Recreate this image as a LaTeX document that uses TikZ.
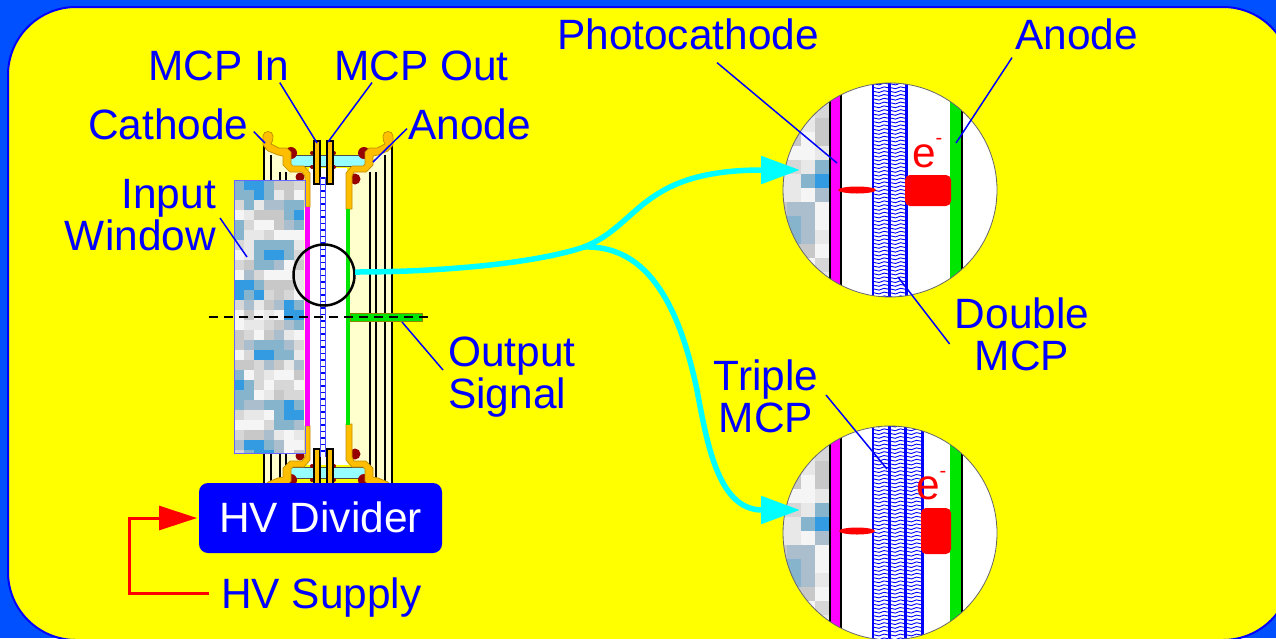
\documentclass[tikz,border=0pt]{standalone}
\usepackage{fontspec}
\setmainfont{Liberation Sans}
\usetikzlibrary{arrows.meta}
\definecolor{skyblue}{RGB}{0,80,255}
\definecolor{pureblue}{RGB}{0,0,255}
\definecolor{purered}{RGB}{255,0,0}
\definecolor{puregreen}{RGB}{0,230,0}
\definecolor{pureyellow}{RGB}{255,255,0}
\definecolor{puremagenta}{RGB}{255,0,255}
\definecolor{aquafill}{RGB}{0,255,255}
\definecolor{palecyan}{RGB}{150,255,255}
\definecolor{creamfill}{RGB}{255,255,205}
\definecolor{brassfill}{RGB}{255,190,0}
\definecolor{sealred}{RGB}{150,0,0}
\definecolor{tileA}{RGB}{232,232,232}
\definecolor{tileB}{RGB}{200,200,200}
\definecolor{tileC}{RGB}{245,245,245}
\definecolor{tileD}{RGB}{135,180,205}
\definecolor{tileE}{RGB}{170,190,205}
\definecolor{tileF}{RGB}{50,155,225}
\definecolor{tileG}{RGB}{215,215,215}
\tikzset{
  lbl/.style={text=pureblue,inner sep=0pt,font=\fontsize{42.4}{42}\selectfont},
  leader/.style={draw=pureblue,line width=1.5pt},
  aquapipe/.style={draw=aquafill,line width=5.5pt,-{Triangle[length=39pt,width=27pt]}},
  feedline/.style={draw=purered,line width=3pt},
  tubeline/.style={draw=black,line width=1.6pt},
  brasspart/.style={draw=brassfill!75!black,fill=brassfill,line width=.7pt},
}
% one end of the tube, drawn for the top and mirrored for the bottom
\newcommand{\tubeend}{
  \fill[palecyan,draw=black!70,line width=1pt] (290,155) rectangle (366,166);
  \fill[sealred] (291,153) circle (6) (364,153) circle (6);
  \fill[sealred] (300,177) circle (4.5) (355,179) circle (5.5);
  \fill[sealred] (312,153) circle (2) (312,167) circle (2) (334,153) circle (2) (334,167) circle (2);
  \draw[brasspart] (263,136) .. controls (263,130) and (273,130) .. (273,136)
    .. controls (273,140) and (272,143) .. (271,144) -- (279,148) -- (287,148) -- (291,152) -- (291,164) -- (293,166)
    -- (304,166) -- (310,173) -- (310,207) -- (305,207) -- (305,176) -- (302,172) -- (290,172) -- (283,165) -- (283,156)
    -- (278,155) -- (268,151) -- (263,145) -- cycle;
  \draw[brasspart] (393,136) .. controls (393,130) and (383,130) .. (383,136)
    .. controls (383,140) and (384,143) .. (385,144) -- (377,148) -- (369,148) -- (365,152) -- (365,164) -- (363,166)
    -- (352,166) -- (346,173) -- (346,209) -- (352,209) -- (352,176) -- (354,172) -- (366,172) -- (373,165) -- (373,156)
    -- (378,155) -- (388,151) -- (393,145) -- cycle;
  \draw[fill=brassfill,draw=black,line width=1.3pt] (314,141) rectangle (320,184);
  \draw[fill=brassfill,draw=black,line width=1.3pt] (327,141) rectangle (333,184);
}
% mosaic of the glass
\newcommand{\glasstiles}[6]{
  \pgfmathsetseed{#5}
  \foreach \r in {0,...,#4} {
    \foreach \c in {0,...,#3} {
      \pgfmathsetmacro{\shade}{sin(50*\c+40*\r)+cos(70*\r-30*\c)+rnd*1.2}
      \pgfmathtruncatemacro{\pick}{random(1,4)}
      \pgfmathtruncatemacro{\band}{\shade>#6+1.35 ? 3 : (\shade>#6+.5 ? 2 : (\shade>#6 ? 1 : 0))}
      \ifcase\band
        \ifcase\pick\or\def\tile{tileA}\or\def\tile{tileB}\or\def\tile{tileC}\or\def\tile{tileG}\fi
      \or\def\tile{tileE}\or\def\tile{tileD}\or\def\tile{tileF}\fi
      \fill[\tile] ({#1+\c*\tilesize},{#2+\r*\tilesize}) rectangle ++({\tilesize+.4},{\tilesize+.4});
    }
  }
}
% slanted rungs of one MCP plate
\newcommand{\mcpplate}[3]{
  \foreach \y in {#2,...,#3} {
    \draw[pureblue,line width=.9pt] (#1,\y*3.8) -- ++(6,1.3) -- ++(5,-1.8) -- ++(6,1.2);
  }
  \draw[pureblue,line width=2.4pt] (#1,{#2*3.8}) -- (#1,{#3*3.8});
  \draw[pureblue,line width=2.4pt] ({#1+17},{#2*3.8}) -- ({#1+17},{#3*3.8});
}
\begin{document}
\begin{tikzpicture}[x=1pt,y=-1pt]
  \useasboundingbox (0,0) rectangle (1276,638);
  \fill[skyblue] (0,0) rectangle (1276,638);
  \draw[draw=pureblue,fill=pureyellow,line width=2pt,rounded corners=68pt] (8,7) rectangle (1291,640);

  % Tube body
  \fill[creamfill] (264,150) rectangle (290,490);
  \fill[creamfill] (366,150) rectangle (392,490);
  \fill[creamfill] (290,170) rectangle (366,465);
  \fill[white] (309,168) rectangle (347,465);
  \draw[tubeline] (264,143) -- (264,490);
  \draw[tubeline] (271,155) -- (271,490);
  \draw[tubeline] (280,172) -- (280,490);
  \draw[tubeline] (286,172) -- (286,490);
  \draw[tubeline] (370,172) -- (370,490);
  \draw[tubeline] (376,172) -- (376,490);
  \draw[tubeline] (385,155) -- (385,490);
  \draw[tubeline] (392,143) -- (392,490);
  \tubeend
  \begin{scope}[yshift=-633pt,yscale=-1]
    \tubeend
  \end{scope}

  % Input window
  \def\tilesize{10}
  \begin{scope}
    \clip (234,180) rectangle (305,453);
    \glasstiles{234}{180}{6}{27}{41}{.6}
  \end{scope}
  \draw[draw=pureblue!60,line width=1pt] (234,180) rectangle (305,453);
  \fill[puremagenta] (305,207) rectangle (309.5,426);
  \fill[puregreen] (346,209) rectangle (350,425);

  % MCP stack seen from the side
  \foreach \y in {178,184.5,...,456} {
    \draw[pureblue,line width=1.4pt] (320,\y) -- (326,\y);
  }
  \draw[pureblue!70,line width=1.4pt] (320.5,177) -- (320.5,457);
  \draw[pureblue!70,line width=1.4pt] (325.5,177) -- (325.5,457);

  % Output signal bar
  \draw[draw=olive,fill=puregreen,line width=1pt] (350,313) rectangle (422,321);
  \draw[black,line width=2.4pt,dash pattern=on 9pt off 6pt] (209,317) -- (432,317);

  % Lens on the tube
  \draw[black,line width=2.5pt] (324,275) circle (30.5);

  % Magnified views
  \def\tilesize{14}
  \begin{scope}
    \clip (890,190) circle (107);
    \fill[white] (783,83) rectangle (997,297);
    \glasstiles{773}{76}{4}{16}{17}{1.1}
    \fill[black] (829,80) rectangle (831,300);
    \fill[puremagenta] (831,80) rectangle (840,300);
    \fill[black] (840,80) rectangle (842,300);
    \fill[white] (842,80) rectangle (872,300);
    \mcpplate{873}{21}{79}
    \mcpplate{889.5}{21}{79}
    \fill[puregreen] (950,80) rectangle (961,300);
    \fill[black] (961,80) rectangle (963,300);
    \fill[purered] (857,190) ellipse (19 and 3.5);
    \fill[purered,rounded corners=5pt] (905,175) rectangle (951,206);
  \end{scope}
  \draw[black!60,line width=.8pt] (890,190) circle (107);
  \begin{scope}
    \clip (890,533) circle (107);
    \fill[white] (783,426) rectangle (997,640);
    \glasstiles{773}{419}{4}{16}{17}{1.1}
    \fill[black] (829,423) rectangle (831,640);
    \fill[puremagenta] (831,423) rectangle (840,640);
    \fill[black] (840,423) rectangle (842,640);
    \fill[white] (842,423) rectangle (872,640);
    \mcpplate{873}{112}{168}
    \mcpplate{889.2}{112}{168}
    \mcpplate{905.4}{112}{168}
    \fill[puregreen] (950,423) rectangle (961,640);
    \fill[black] (961,423) rectangle (963,640);
    \fill[purered] (857,531) ellipse (18 and 3.5);
    \fill[purered,rounded corners=5pt] (921,508) rectangle (951,554);
  \end{scope}
  \draw[black!60,line width=.8pt] (890,533) circle (107);
  \node[text=purered,inner sep=0pt,font=\fontsize{42.4}{42}\selectfont,anchor=base] (eTop) at (924,167) {e};
  \node[text=purered,inner sep=0pt,font=\fontsize{20}{20}\selectfont,anchor=base] (minusTop) at (939,144) {-};
  \node[text=purered,inner sep=0pt,font=\fontsize{42.4}{42}\selectfont,anchor=base] (eBot) at (928,499) {e};
  \node[text=purered,inner sep=0pt,font=\fontsize{20}{20}\selectfont,anchor=base] (minusBot) at (943,477) {-};

  % Signal pipes
  \coordinate (pipeStart) at (355,272);
  \coordinate (pipeFork) at (584,247);
  \coordinate (pipeBend) at (697,390);
  \coordinate (tipTop) at (800,170);
  \coordinate (tipBot) at (800,510);
  \draw[aquapipe] (pipeStart) .. controls (450,272) and (540,262) .. (pipeFork)
    .. controls (640,225) and (640,170) .. (tipTop);
  \draw[aquapipe] (pipeFork) .. controls (650,245) and (680,310) .. (pipeBend)
    .. controls (708,450) and (720,510) .. (tipBot);

  % HV parts
  \node[fill=pureblue,rounded corners=9pt,minimum width=243pt,minimum height=70pt,inner sep=0pt] (hvDivider) at (320.5,518) {};
  \node[text=white,inner sep=0pt,font=\fontsize{42.4}{42}\selectfont,anchor=base] (hvText) at (320.5,532) {HV Divider};
  \node[lbl,anchor=base west] (hvSupply) at (221,608) {HV Supply};
  \coordinate (feedEnd) at (209,593);
  \coordinate (feedTip) at (197,518);
  \draw[feedline,-{Triangle[length=38pt,width=24pt]}] (feedEnd) -- (129,593) -- (129,518) -- (feedTip);

  % Labels
  \node[lbl,anchor=base west] (photoLbl) at (557,49) {Photocathode};
  \node[lbl,anchor=base west] (anodeBigLbl) at (1015,49) {Anode};
  \node[lbl,anchor=base west] (mcpInLbl) at (148,80) {MCP In};
  \node[lbl,anchor=base west] (mcpOutLbl) at (334,80) {MCP Out};
  \node[lbl,anchor=base west] (cathodeLbl) at (88,139) {Cathode};
  \node[lbl,anchor=base west] (anodeLbl) at (408,139) {Anode};
  \node[lbl,align=right,anchor=north east] (windowLbl) at (216,179) {Input\\Window};
  \node[lbl,align=left,anchor=north west] (outputLbl) at (448,337) {Output\\Signal};
  \node[lbl,align=center,anchor=north] (doubleLbl) at (1022,298) {Double\\MCP};
  \node[lbl,align=center,anchor=north] (tripleLbl) at (766,360) {Triple\\MCP};

  % Leader lines
  \coordinate (mcpInEnd) at (317,143);
  \coordinate (mcpOutEnd) at (328,142);
  \coordinate (cathodeEnd) at (265,143);
  \coordinate (anodeEnd) at (373,162);
  \coordinate (windowEnd) at (247,257);
  \coordinate (outputEnd) at (402,322);
  \coordinate (photoEnd) at (837,163);
  \coordinate (anodeBigEnd) at (956,143);
  \coordinate (doubleEnd) at (898,277);
  \coordinate (tripleEnd) at (887,469);
  \draw[leader] ([shift={(-10,2)}]mcpInLbl.south east) -- (mcpInEnd);
  \draw[leader] ([shift={(38,2)}]mcpOutLbl.south west) -- (mcpOutEnd);
  \draw[leader] ([shift={(5,-8)}]cathodeLbl.south east) -- (cathodeEnd);
  \draw[leader] ([shift={(-1,-11)}]anodeLbl.south west) -- (anodeEnd);
  \draw[leader] ([shift={(4,39)}]windowLbl.north east) -- (windowEnd);
  \draw[leader] ([shift={(-5,33)}]outputLbl.north west) -- (outputEnd);
  \draw[leader] ([shift={(160,13)}]photoLbl.south west) -- (photoEnd);
  \draw[leader] ([shift={(-3,8)}]anodeBigLbl.south west) -- (anodeBigEnd);
  \draw[leader] ([shift={(-5,46)}]doubleLbl.north west) -- (doubleEnd);
  \draw[leader] ([shift={(60,35)}]tripleLbl.north) -- (tripleEnd);
\end{tikzpicture}
\end{document}
